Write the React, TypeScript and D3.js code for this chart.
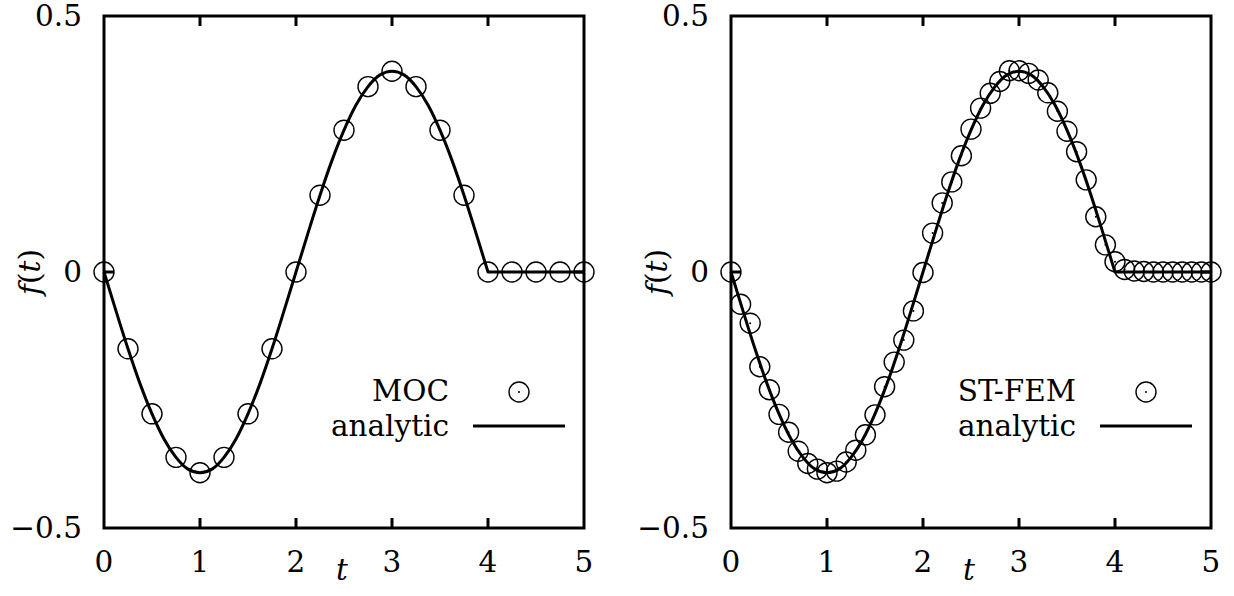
import React from 'react';
import * as d3 from 'd3';

// axes
const tTicks = [0, 1, 2, 3, 4, 5];
const fTicks = [-0.5, 0, 0.5];
const fTickLabels = ['\u22120.5', '0', '0.5'];

// analytic solution
const analyticT = [0, 0.125, 0.25, 0.375, 0.5, 0.625, 0.75, 0.875, 1, 1.125, 1.25, 1.375, 1.5, 1.625, 1.75, 1.875,
  2, 2.125, 2.25, 2.375, 2.5, 2.625, 2.75, 2.875, 3, 3.125, 3.25, 3.375, 3.5, 3.625, 3.75, 3.875, 4, 5];
const analyticF = [0, -0.076, -0.15, -0.218, -0.277, -0.326, -0.362, -0.385, -0.392, -0.385, -0.362, -0.326, -0.277, -0.218, -0.15, -0.076,
  0, 0.076, 0.15, 0.218, 0.277, 0.326, 0.362, 0.385, 0.392, 0.385, 0.362, 0.326, 0.277, 0.218, 0.15, 0.076, 0, 0];

// MOC samples
const mocT = [0, 0.25, 0.5, 0.75, 1, 1.25, 1.5, 1.75, 2, 2.25, 2.5, 2.75, 3, 3.25, 3.5, 3.75, 4, 4.25, 4.5, 4.75, 5];
const mocF = [0, -0.15, -0.277, -0.362, -0.392, -0.362, -0.277, -0.15, 0, 0.15, 0.277, 0.362, 0.392, 0.362, 0.277, 0.15, 0, 0, 0, 0, 0];

// ST-FEM samples
const femT = [0, 0.1, 0.2, 0.3, 0.4, 0.5, 0.6, 0.7, 0.8, 0.9, 1, 1.1, 1.2, 1.3, 1.4, 1.5, 1.6, 1.7, 1.8, 1.9,
  2, 2.1, 2.2, 2.3, 2.4, 2.5, 2.6, 2.7, 2.8, 2.9, 3, 3.1, 3.2, 3.3, 3.4, 3.5, 3.6, 3.7, 3.8, 3.9,
  4, 4.1, 4.2, 4.3, 4.4, 4.5, 4.6, 4.7, 4.8, 4.9, 5];
const femF = [0, -0.063, -0.1, -0.185, -0.23, -0.278, -0.313, -0.35, -0.374, -0.385, -0.392, -0.389, -0.371, -0.348, -0.318, -0.279, -0.224, -0.176, -0.133, -0.076,
  -0.001, 0.076, 0.135, 0.176, 0.227, 0.279, 0.32, 0.349, 0.372, 0.393, 0.393, 0.388, 0.375, 0.35, 0.314, 0.275, 0.235, 0.18, 0.108, 0.053,
  0.02, 0.005, 0.002, 0.001, 0, 0, 0, 0, 0, 0, 0];

const fs = 29.5;
const txt = { fontFamily: "'DejaVu Serif', 'Noto Serif', 'Times New Roman', Times, serif", fontSize: fs };

type Pt = [number, number];

function Panel({ left, points, name }: { left: number; points: Pt[]; name: string }) {
  const top = 16, bottom = 528, right = left + 480;
  const x = d3.scaleLinear().domain([0, 5]).range([left, right]);
  const y = d3.scaleLinear().domain([-0.5, 0.5]).range([bottom, top]);

  const curve: Pt[] = analyticT.map((t, i) => [t, analyticF[i]]);
  const smooth = d3.line<Pt>().x(d => x(d[0])).y(d => y(d[1])).curve(d3.curveMonotoneX);
  const flat = d3.line<Pt>().x(d => x(d[0])).y(d => y(d[1]));
  const pathD = smooth(curve.filter(d => d[0] <= 4))! + flat(curve.filter(d => d[0] >= 4))!.replace(/^M/, 'L');

  const lx = right - 65;   // legend sample centre
  const textEnd = right - 135;

  return (
    <g>
      {/* analytic line */}
      <path d={pathD} fill="none" stroke="#000" strokeWidth={3} strokeLinejoin="round" />
      {/* sample points */}
      {points.map((d, i) => (
        <g key={i} transform={`translate(${x(d[0])},${y(d[1])})`}>
          <circle r={10} fill="none" stroke="#000" strokeWidth={1.4} />
          <circle r={1} fill="#000" />
        </g>
      ))}
      {/* frame */}
      <rect x={left} y={top} width={right - left} height={bottom - top} fill="none" stroke="#000" strokeWidth={3} />
      {tTicks.slice(1, -1).map(t => (
        <g key={t}>
          <line x1={x(t)} x2={x(t)} y1={bottom} y2={bottom - 10} stroke="#000" strokeWidth={3} />
          <line x1={x(t)} x2={x(t)} y1={top} y2={top + 10} stroke="#000" strokeWidth={3} />
        </g>
      ))}
      <line x1={left} x2={left + 10} y1={y(0)} y2={y(0)} stroke="#000" strokeWidth={3} />
      <line x1={right} x2={right - 10} y1={y(0)} y2={y(0)} stroke="#000" strokeWidth={3} />
      {/* tick labels */}
      {tTicks.map(t => (
        <text key={t} x={x(t)} y={bottom + 44} textAnchor="middle" style={txt}>{t}</text>
      ))}
      {fTicks.map((f, i) => (
        <text key={f} x={left - 22} y={y(f) + 10} textAnchor="end" style={txt}>{fTickLabels[i]}</text>
      ))}
      {/* axis titles */}
      <text x={left + 238} y={bottom + 52} textAnchor="middle" style={{ ...txt, fontStyle: 'italic' }}>t</text>
      <text transform={`translate(${left - 64},${y(0)}) rotate(-90)`} textAnchor="middle" style={txt}>
        <tspan fontStyle="italic">f</tspan>(<tspan fontStyle="italic">t</tspan>)
      </text>
      {/* legend */}
      <text x={textEnd} y={401} textAnchor="end" style={txt}>{name}</text>
      <circle cx={lx} cy={392} r={10} fill="none" stroke="#000" strokeWidth={1.4} />
      <circle cx={lx} cy={392} r={1} fill="#000" />
      <text x={textEnd} y={436} textAnchor="end" style={txt}>analytic</text>
      <line x1={lx - 46} x2={lx + 46} y1={426} y2={426} stroke="#000" strokeWidth={3} />
    </g>
  );
}

export default function App() {
  const moc: Pt[] = mocT.map((t, i) => [t, mocF[i]]);
  const fem: Pt[] = femT.map((t, i) => [t, femF[i]]);
  return (
    <svg width={1234} height={596} style={{ position: 'absolute', left: 0, top: 0, background: '#fff' }}>
      <Panel left={104} points={moc} name="MOC" />
      <Panel left={731} points={fem} name="ST-FEM" />
    </svg>
  );
}
